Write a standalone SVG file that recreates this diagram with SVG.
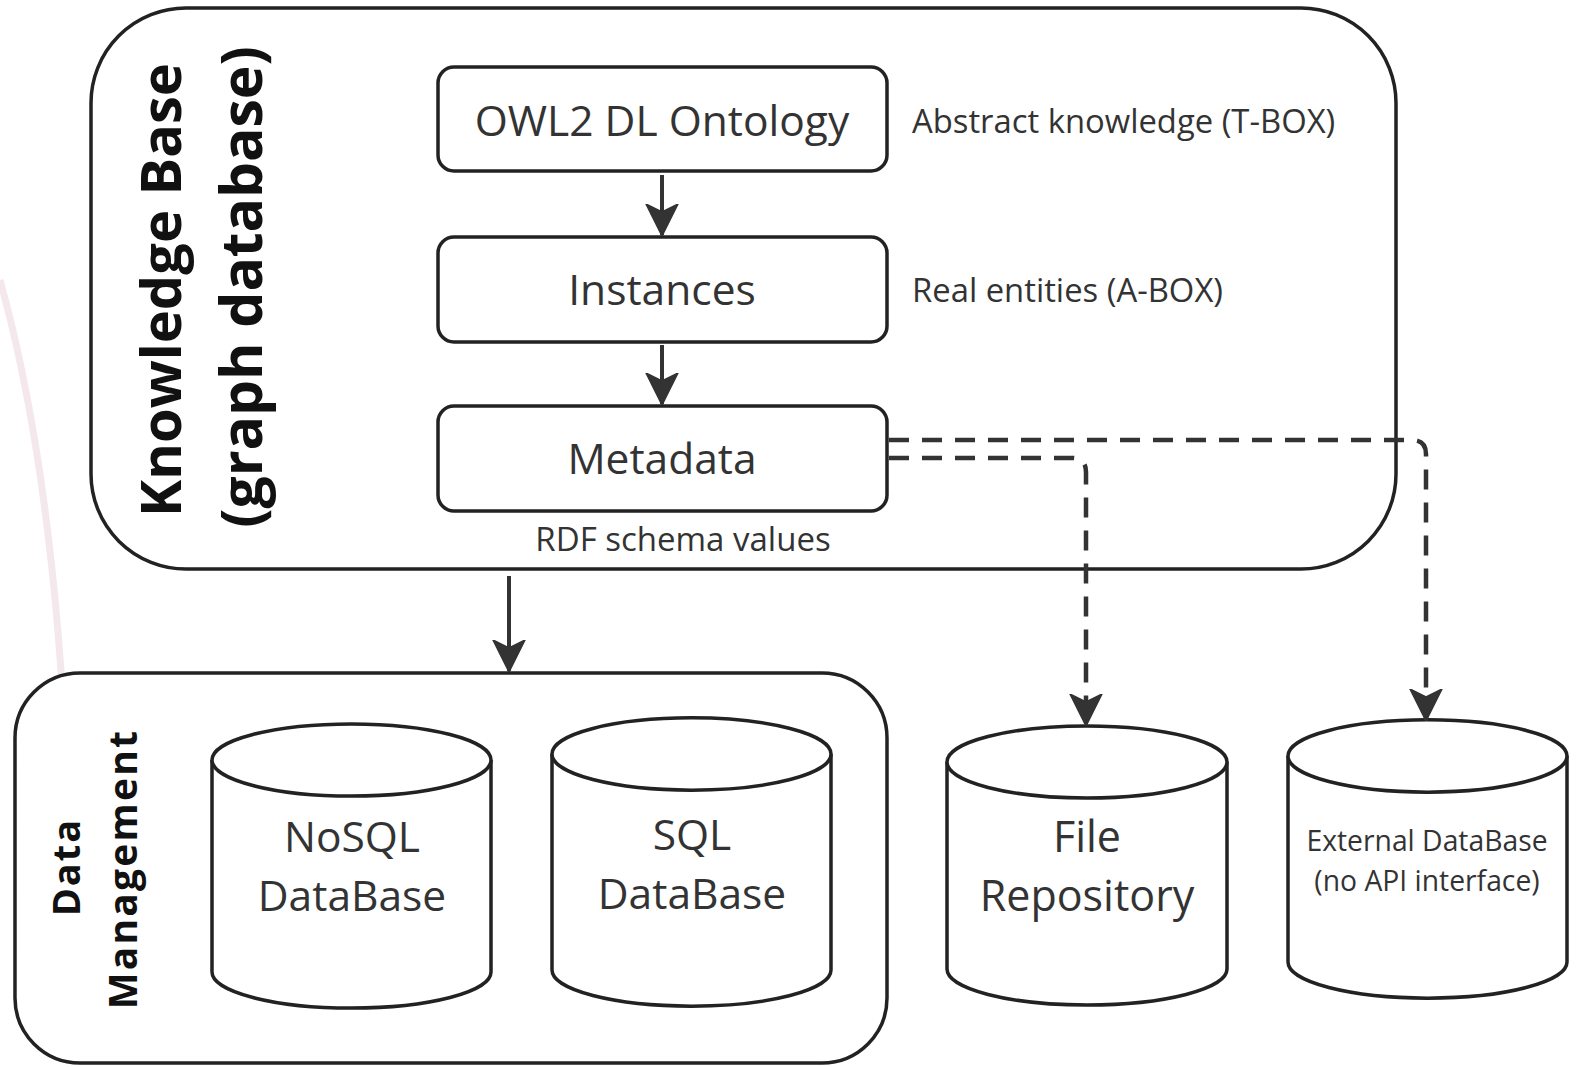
<svg xmlns="http://www.w3.org/2000/svg" width="1580" height="1067" viewBox="0 0 1580 1067">
<style>
.box{fill:#fff;stroke:#222;stroke-width:3.5}
.t{font-family:"Open Sans","Liberation Sans",sans-serif;fill:#333}
.b{font-family:"Open Sans","Liberation Sans",sans-serif;font-weight:bold;fill:#111}
.c{text-anchor:middle;dominant-baseline:central}
.solid{fill:none;stroke:#333;stroke-width:4}
.dash{fill:none;stroke:#333;stroke-width:4.5;stroke-dasharray:20 13}
</style>
<defs>
<marker id="ah" viewBox="0 0 32 34" refX="31" refY="17" markerWidth="32" markerHeight="34" markerUnits="userSpaceOnUse" orient="auto">
<path d="M0 1 L32 17 L0 33 L8 17 Z" fill="#333" stroke="#333" stroke-width="1.5" stroke-linejoin="round"/>
</marker>
</defs>
<rect width="1580" height="1067" fill="#fff"/>
<path d="M0 280 Q78 560 70 1060" fill="none" stroke="#f4e8ec" stroke-width="7"/>

<g id="knowledge-base">
<rect class="box" x="91" y="8" width="1305" height="561" rx="95"/>
<text class="b c" transform="translate(159 290) rotate(-90)" font-size="56">Knowledge Base</text>
<text class="b c" transform="translate(240 287) rotate(-90)" font-size="57">(graph database)</text>
</g>
<g id="owl">
<rect class="box" x="438" y="67" width="449" height="104" rx="16"/>
<text class="t c" x="662" y="119" font-size="42.5">OWL2 DL Ontology</text>
</g>
<text id="tbox" class="t" x="912" y="120" font-size="32.8" dominant-baseline="central">Abstract knowledge (T-BOX)</text>
<g id="instances">
<rect class="box" x="438" y="237" width="449" height="105" rx="16"/>
<text class="t c" x="662" y="288" font-size="42.5">Instances</text>
</g>
<text id="abox" class="t" x="912" y="289" font-size="32.8" dominant-baseline="central">Real entities (A-BOX)</text>
<g id="metadata">
<rect class="box" x="438" y="406" width="449" height="105" rx="16"/>
<text class="t c" x="662" y="457" font-size="42.5">Metadata</text>
</g>
<text id="rdf" class="t c" x="683" y="538" font-size="33">RDF schema values</text>

<g id="data-management">
<rect class="box" x="15" y="673" width="872" height="390" rx="65"/>
<text class="b c" transform="translate(65 867) rotate(-90)" font-size="38" letter-spacing="2">Data</text>
<text class="b c" transform="translate(121 869) rotate(-90)" font-size="39" letter-spacing="2.2">Management</text>
</g>
<g id="nosql">
<path class="box" d="M212 760 L212 972 A139 36 0 0 0 491 972 L491 760 A139 36 0 0 0 212 760 Z"/>
<path class="box" fill="none" d="M212 760 A139 36 0 0 0 491 760"/>
<text class="t c" x="352" y="835" font-size="42.5">NoSQL</text>
<text class="t c" x="352" y="894" font-size="42.5">DataBase</text>
</g>
<g id="sql">
<path class="box" d="M552 754 L552 970 A139 36 0 0 0 831 970 L831 754 A139 36 0 0 0 552 754 Z"/>
<path class="box" fill="none" d="M552 754 A139 36 0 0 0 831 754"/>
<text class="t c" x="692" y="833" font-size="42.5">SQL</text>
<text class="t c" x="692" y="892" font-size="42.5">DataBase</text>
</g>
<g id="file-repo">
<path class="box" d="M947 762 L947 969 A140 36 0 0 0 1227 969 L1227 762 A140 36 0 0 0 947 762 Z"/>
<path class="box" fill="none" d="M947 762 A140 36 0 0 0 1227 762"/>
<text class="t c" x="1087" y="835" font-size="43">File</text>
<text class="t c" x="1087" y="894" font-size="43">Repository</text>
</g>
<g id="external-db">
<path class="box" d="M1288 756 L1288 962 A139 36 0 0 0 1567 962 L1567 756 A139 36 0 0 0 1288 756 Z"/>
<path class="box" fill="none" d="M1288 756 A139 36 0 0 0 1567 756"/>
<text class="t c" x="1427" y="840" font-size="28.3">External DataBase</text>
<text class="t c" x="1427" y="880" font-size="28.3">(no API interface)</text>
</g>

<g id="connectors">
<path class="solid" d="M662 175 L662 235" marker-end="url(#ah)"/>
<path class="solid" d="M662 345 L662 404" marker-end="url(#ah)"/>
<path class="solid" d="M509 576 L509 671" marker-end="url(#ah)"/>
<path class="dash" d="M889 440 L1412 440 Q1426 440 1426 454 L1426 720" marker-end="url(#ah)"/>
<path class="dash" d="M889 458 L1072 458 Q1086 458 1086 472 L1086 725" marker-end="url(#ah)"/>
</g>
</svg>
